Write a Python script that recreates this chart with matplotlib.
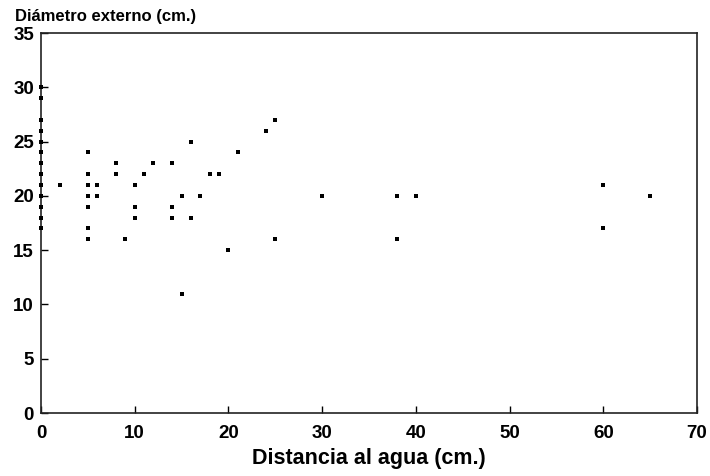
import matplotlib.pyplot as plt
import numpy as np

# distance to water (cm) and outer diameter (cm) for each measured nest
distancia = [
    0, 0, 0, 0, 0, 0, 0, 0, 0, 0, 0, 0, 0,
    2,
    5, 5, 5, 5, 5, 5, 5,
    6, 6,
    8, 8,
    9,
    10, 10, 10,
    11, 12,
    14, 14, 14,
    15, 15,
    16, 16,
    17, 18, 19, 20, 21,
    24, 25, 25,
    30,
    38, 38, 40,
    60, 60, 65,
]
diametro = [
    30, 29, 27, 26, 25, 24, 23, 22, 21, 20, 19, 18, 17,
    21,
    24, 22, 21, 20, 19, 17, 16,
    21, 20,
    23, 22,
    16,
    21, 19, 18,
    22, 23,
    23, 19, 18,
    20, 11,
    25, 18,
    20, 22, 22, 15, 24,
    26, 27, 16,
    20,
    20, 16, 20,
    21, 17, 20,
]

X_TICKS = np.arange(0, 71, 10)
Y_TICKS = np.arange(0, 36, 5)

plt.rcParams["font.family"] = ["Liberation Sans", "DejaVu Sans"]

fig = plt.figure(figsize=(7.1, 4.76), dpi=100)
ax = fig.add_axes([41 / 710, 1 - 413 / 476, (697 - 41) / 710, (413 - 33) / 476])

ax.scatter(distancia, diametro, marker="s", s=12, color="black",
           linewidths=0, clip_on=False, zorder=3)

ax.set_xlim(0, 70)
ax.set_ylim(0, 35)
ax.set_xticks(X_TICKS)
ax.set_yticks(Y_TICKS)
ax.tick_params(direction="in", length=5, width=1, colors="black",
               labelsize=13.5, pad=5)
ax.tick_params(axis="x", pad=9)
for lab in ax.get_xticklabels() + ax.get_yticklabels():
    lab.set_fontweight("bold")

for sp in ax.spines.values():
    sp.set_linewidth(1.2)
    sp.set_color("#222222")

ax.set_xlabel("Distancia al agua (cm.)", fontsize=15.5, fontweight="bold",
              labelpad=4)
fig.text(15 / 710, 1 - 16 / 476, "Diámetro externo (cm.)", fontsize=12,
         fontweight="bold", va="center", ha="left")

fig.savefig("out.png", dpi=100)
